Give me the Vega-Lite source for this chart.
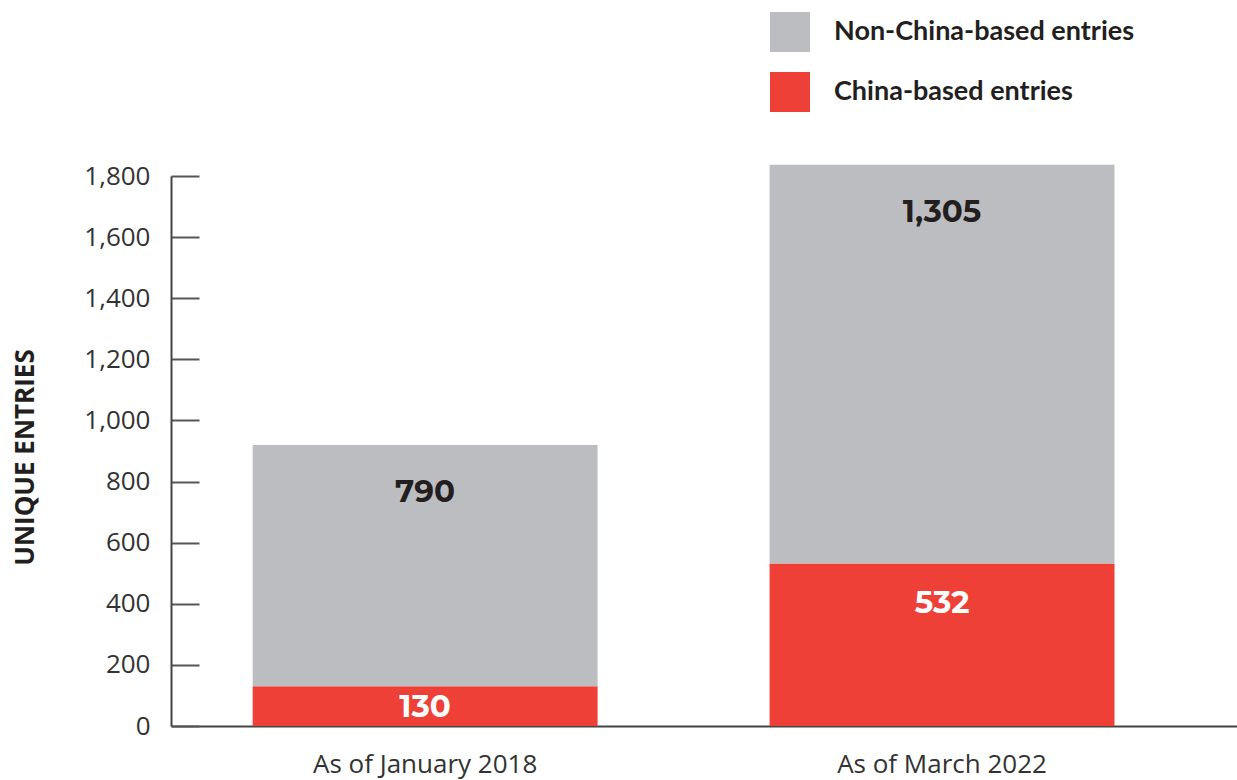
{
  "$schema": "https://vega.github.io/schema/vega-lite/v6.json",
  "width": 1066,
  "height": 550,
  "autosize": "none",
  "padding": {"left": 171, "top": 176, "right": 0, "bottom": 54},
  "background": "white",
  "config": {"view": {"stroke": null}},
  "data": {"values": [
    {"period": "As of January 2018", "category": "China-based entries", "value": 130},
    {"period": "As of January 2018", "category": "Non-China-based entries", "value": 790},
    {"period": "As of March 2022", "category": "China-based entries", "value": 532},
    {"period": "As of March 2022", "category": "Non-China-based entries", "value": 1305}
  ]},
  "transform": [
    {"stack": "value", "groupby": ["period"], "sort": [{"field": "category", "order": "ascending"}], "as": ["v0", "v1"]}
  ],
  "encoding": {
    "x": {
      "field": "period", "type": "nominal", "sort": null,
      "scale": {"paddingInner": 0.3327, "paddingOuter": 0.1975, "align": 0.4},
      "axis": {
        "title": null, "labelAngle": 0, "ticks": false,
        "domainColor": "#444", "domainWidth": 2,
        "labelFont": "Open Sans", "labelFontSize": 26, "labelColor": "#333",
        "labelPadding": 25, "labelBaseline": "top", "labelLimit": 0
      }
    }
  },
  "layer": [
    {
      "mark": {"type": "bar"},
      "encoding": {
        "y": {
          "field": "v0", "type": "quantitative",
          "scale": {"domain": [0, 1800], "nice": false},
          "axis": {
            "title": "UNIQUE ENTRIES",
            "values": [0, 200, 400, 600, 800, 1000, 1200, 1400, 1600, 1800],
            "format": ",.0f", "grid": false,
            "tickSize": -28, "tickColor": "#555", "tickWidth": 2,
            "domainColor": "#444", "domainWidth": 2,
            "labelFont": "Open Sans", "labelFontSize": 26, "labelColor": "#333",
            "labelPadding": 49,
            "titleFont": "Open Sans", "titleFontSize": 26, "titleFontWeight": "bold",
            "titleColor": "#231f20", "titleX": -138, "titleY": 281,
            "titleAngle": -90, "titleAlign": "center", "titleBaseline": "alphabetic"
          }
        },
        "y2": {"field": "v1"},
        "color": {
          "field": "category", "type": "nominal",
          "scale": {
            "domain": ["Non-China-based entries", "China-based entries"],
            "range": ["#bcbdc0", "#ee4036"]
          },
          "legend": {
            "title": null, "orient": "none", "legendX": 599, "legendY": -164,
            "symbolType": "square", "symbolSize": 1600, "symbolStrokeWidth": 0,
            "symbolOpacity": 1,
            "labelFont": "Lato", "labelFontWeight": "bold", "labelFontSize": 27,
            "labelColor": "#231f20", "labelOffset": 24, "rowPadding": 20,
            "labelLimit": 0, "padding": 0
          }
        }
      }
    },
    {
      "transform": [{"filter": "datum.category == 'Non-China-based entries'"}],
      "mark": {"type": "text", "dy": 48, "font": "Montserrat, Open Sans", "fontWeight": "bold", "fontSize": 31, "color": "#231f20", "baseline": "middle"},
      "encoding": {
        "y": {"field": "v1", "type": "quantitative"},
        "text": {"field": "value", "type": "quantitative", "format": ",.0f"}
      }
    },
    {
      "transform": [{"filter": "datum.category == 'China-based entries' && datum.value > 200"}],
      "mark": {"type": "text", "dy": 41, "font": "Montserrat, Open Sans", "fontWeight": "bold", "fontSize": 31, "color": "white", "baseline": "middle"},
      "encoding": {
        "y": {"field": "v1", "type": "quantitative"},
        "text": {"field": "value", "type": "quantitative", "format": ",.0f"}
      }
    },
    {
      "transform": [{"filter": "datum.category == 'China-based entries' && datum.value <= 200"}],
      "mark": {"type": "text", "dy": 22, "font": "Montserrat, Open Sans", "fontWeight": "bold", "fontSize": 31, "color": "white", "baseline": "middle"},
      "encoding": {
        "y": {"field": "v1", "type": "quantitative"},
        "text": {"field": "value", "type": "quantitative", "format": ",.0f"}
      }
    }
  ]
}
